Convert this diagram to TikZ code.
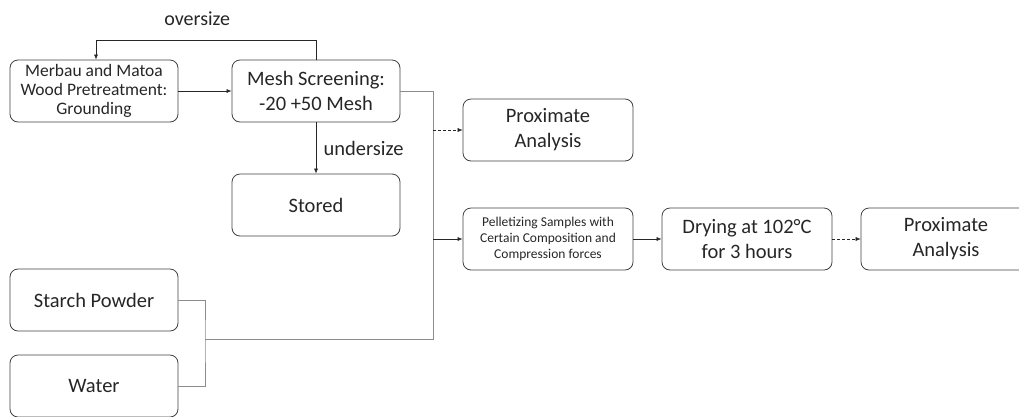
\documentclass[tikz,border=0pt]{standalone}
\usepackage{fontspec}
\setmainfont{Carlito}
\usetikzlibrary{arrows.meta,positioning}
\tikzset{
    mybox/.style={rectangle,rounded corners=8pt,draw=black!75,thick, minimum width=168pt, minimum height=62pt, align=center, inner sep=2pt, text=black!85, font=\fontsize{20.5}{25}\selectfont},
    pil/.style={-{Latex[length=5pt,width=4pt]}, black!85, semithick},
    dpil/.style={pil, densely dashed, thin},
    glin/.style={black!45, semithick}
}

\begin{document}
\begin{tikzpicture}[x=1pt, y=-1pt]
    \useasboundingbox (0,0) rectangle (1019,416);
    \node[mybox, font=\fontsize{17.5}{19}\selectfont] (wood) at (94,91)
      {Merbau and Matoa\\ Wood Pretreatment:\\ Grounding};
    \node[mybox] (mesh) at (316,91)
      {Mesh Screening:\\ -20 +50 Mesh};
    \node[mybox] (stored) at (316,205) {Stored};
    \node[mybox, minimum width=170pt] (prox1) at (548,130)
      {Proximate\\ Analysis};
    \node[mybox, minimum width=170pt, font=\fontsize{13.5}{16}\selectfont] (pellet) at (548,239)
      {Pelletizing Samples with\\ Certain Composition and\\ Compression forces};
    \node[mybox, minimum width=170pt] (drying) at (747,239)
      {Drying at 102°C\\ for 3 hours};
    \node[mybox, minimum width=170pt] (prox2) at (946,239)
      {Proximate\\ Analysis};
    \node[mybox] (starch) at (94,300) {Starch Powder};
    \node[mybox] (water) at (94,386) {Water};

    % recycle of the oversize fraction
    \draw[pil] (mesh.north) |- (96,40) node[above=11pt, pos=0.77, font=\fontsize{20}{23}\selectfont, text=black!85] {oversize} -- (wood.north -| 96,0);
    \draw[pil] (wood) -- (mesh);
    \draw[pil] (mesh) -- (stored) node[midway, right=4pt, font=\fontsize{20.5}{23}\selectfont, text=black!85] {undersize};

    % collecting lines
    \coordinate (bus) at (433,91);
    \coordinate (mix) at (205,339);
    \draw[glin] (mesh.east) -- (bus) -- (bus |- mix) -- (mix);
    \draw[glin] (starch.east) -| (mix) |- (water.east);
    \draw[dpil] (bus |- prox1) -- (prox1);
    \draw[pil] (bus |- pellet) -- (pellet);
    \draw[pil] (pellet) -- (drying);
    \draw[dpil] (drying) -- (prox2);
\end{tikzpicture}
\end{document}
